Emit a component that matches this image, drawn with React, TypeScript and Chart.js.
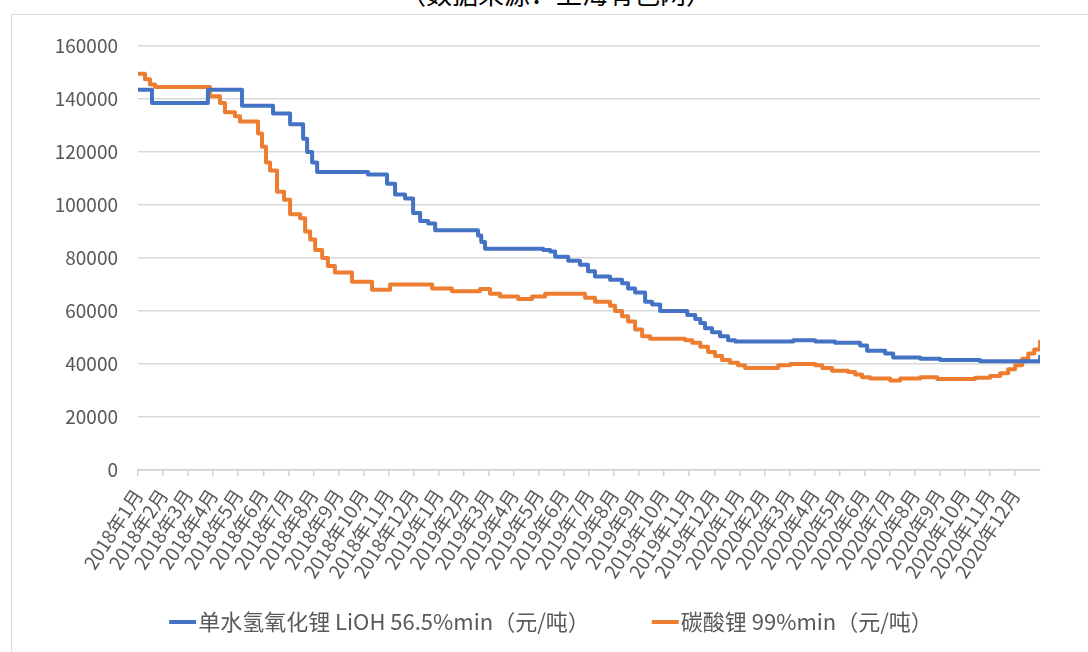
import React, { useEffect, useRef } from 'react';
import { Chart, registerables } from 'chart.js';

Chart.register(...registerables);

const monthLabels: string[] = [
  '2018年1月', '2018年2月', '2018年3月', '2018年4月', '2018年5月', '2018年6月',
  '2018年7月', '2018年8月', '2018年9月', '2018年10月', '2018年11月', '2018年12月',
  '2019年1月', '2019年2月', '2019年3月', '2019年4月', '2019年5月', '2019年6月',
  '2019年7月', '2019年8月', '2019年9月', '2019年10月', '2019年11月', '2019年12月',
  '2020年1月', '2020年2月', '2020年3月', '2020年4月', '2020年5月', '2020年6月',
  '2020年7月', '2020年8月', '2020年9月', '2020年10月', '2020年11月', '2020年12月',
];

const yTicks: number[] = [0, 20000, 40000, 60000, 80000, 100000, 120000, 140000, 160000];

// month offsets (0 = start of 2018年1月) where the LiOH price changes
const liohMonths: number[] = [
  0, 0.56, 2.79, 4.15, 5.39, 6.07, 6.59, 6.75, 6.95, 7.15, 9.18, 9.94, 10.26, 10.66,
  10.98, 11.26, 11.58, 11.86, 13.57, 13.7, 13.85, 16.17, 16.45, 16.65, 17.17, 17.64,
  17.96, 18.24, 18.84, 19.32, 19.56, 19.84, 20.24, 20.52, 20.84, 21.92, 22.24, 22.44,
  22.63, 22.91, 23.23, 23.55, 23.83, 26.15, 27.03, 27.82, 28.82, 29.1, 29.82, 30.14,
  31.22, 32.02, 33.61, 35.85, 36,
];
const liohValues: number[] = [
  143500, 138500, 143500, 137500, 134500, 130500, 125000, 120000, 116000, 112500, 111500, 108000, 104000, 102500,
  97000, 94000, 93000, 90500, 88500, 86000, 83500, 83000, 82500, 80500, 79000, 77500,
  75000, 73000, 71800, 70500, 68500, 67000, 63500, 62500, 60000, 58500, 57000, 55500,
  53500, 52000, 50500, 49000, 48500, 49000, 48500, 48000, 47000, 45000, 44000, 42500,
  42000, 41500, 41000, 41000, 42700,
];

// month offsets where the Li2CO3 price changes
const carbMonths: number[] = [
  0, 0.28, 0.48, 0.68, 2.87, 3.27, 3.47, 3.87, 4.07, 4.79, 4.95, 5.11, 5.27, 5.55,
  5.83, 6.07, 6.47, 6.67, 6.87, 7.07, 7.35, 7.58, 7.86, 8.54, 9.34, 10.06, 11.74, 12.53,
  13.65, 14.05, 14.45, 15.17, 15.73, 16.25, 17.84, 18.24, 18.84, 19.04, 19.32, 19.56,
  19.84, 20.12, 20.44, 21.84, 22.12, 22.44, 22.75, 23.03, 23.31, 23.63, 23.95, 24.23,
  25.55, 26.03, 27.03, 27.31, 27.7, 28.34, 28.62, 28.9, 29.22, 30.02, 30.42, 31.22,
  31.9, 33.41, 34.01, 34.41, 34.73, 35.01, 35.29, 35.53, 35.77, 36,
];
const carbValues: number[] = [
  149500, 147500, 145500, 144500, 141000, 138500, 135000, 133500, 131500, 127000, 122000, 116000, 113000, 105000,
  102000, 96500, 95000, 90000, 87000, 83000, 80000, 77000, 74500, 71000, 68000, 70000, 68500, 67500,
  68300, 66500, 65500, 64500, 65500, 66500, 65000, 63500, 62000, 60000, 58000, 56000,
  53000, 50500, 49500, 49000, 48000, 46500, 44500, 43000, 41500, 40500, 39500, 38500,
  39500, 40000, 39500, 38500, 37500, 37000, 36000, 35000, 34500, 33800, 34500, 35000,
  34300, 34800, 35500, 36500, 38000, 39500, 42000, 44000, 45500, 48500,
];

const seriesNames: string[] = ['单水氢氧化锂 LiOH 56.5%min（元/吨）', '碳酸锂 99%min（元/吨）'];
const seriesColors: string[] = ['#4472C4', '#ED7D31'];
const titleText = '（数据来源：上海有色网）';

const FONT = '"Noto Sans CJK SC", "Noto Sans", sans-serif';

// legend drawn on the canvas, below the axis labels
const bottomLegend = {
  id: 'bottomLegend',
  afterDraw(chart: any) {
    const ctx = chart.ctx;
    const lineLen = 27;
    const lineGap = 2;
    const itemGap = 62;
    const cy = 622;
    ctx.save();
    ctx.font = `22px ${FONT}`;
    ctx.textBaseline = 'middle';
    ctx.textAlign = 'left';
    const items = chart.data.datasets.map((d: any) => ({
      label: d.label as string,
      color: d.borderColor as string,
      w: ctx.measureText(d.label).width,
    }));
    const total = items.reduce((s: number, it: any) => s + lineLen + lineGap + it.w, 0) + itemGap * (items.length - 1);
    const centerX = 551;
    let x = centerX - total / 2;
    items.forEach((it: any) => {
      ctx.strokeStyle = it.color;
      ctx.lineWidth = 4;
      ctx.lineCap = 'butt';
      ctx.beginPath();
      ctx.moveTo(x, cy);
      ctx.lineTo(x + lineLen, cy);
      ctx.stroke();
      x += lineLen + lineGap;
      ctx.fillStyle = '#595959';
      ctx.fillText(it.label, x, cy);
      x += it.w + itemGap;
    });
    ctx.restore();
  },
};

export default function App() {
  const ref = useRef<HTMLCanvasElement | null>(null);

  useEffect(() => {
    if (!ref.current) return;
    const chart = new Chart(ref.current, {
      type: 'line',
      data: {
        datasets: [
          {
            label: seriesNames[0],
            data: liohMonths.map((m, i) => ({ x: m, y: liohValues[i] })),
            borderColor: seriesColors[0],
            backgroundColor: seriesColors[0],
            borderWidth: 4,
            borderJoinStyle: 'round',
            borderCapStyle: 'round',
            pointRadius: 0,
            stepped: 'before',
            fill: false,
          },
          {
            label: seriesNames[1],
            data: carbMonths.map((m, i) => ({ x: m, y: carbValues[i] })),
            borderColor: seriesColors[1],
            backgroundColor: seriesColors[1],
            borderWidth: 4,
            borderJoinStyle: 'round',
            borderCapStyle: 'round',
            pointRadius: 0,
            stepped: 'before',
            fill: false,
          },
        ],
      },
      options: {
        animation: false,
        responsive: false,
        maintainAspectRatio: false,
        layout: { padding: { left: 20, right: 48, top: 46, bottom: 0 } },
        plugins: {
          legend: { display: false },
          tooltip: { enabled: false },
        },
        scales: {
          x: {
            type: 'linear',
            min: 0,
            max: 36,
            afterFit: (s: any) => {
              s.height = 182;
            },
            afterBuildTicks: (s: any) => {
              s.ticks = monthLabels.map((_, i) => ({ value: i })).concat([{ value: 36 }]);
            },
            ticks: {
              autoSkip: false,
              minRotation: 57,
              maxRotation: 57,
              padding: 9,
              color: '#595959',
              font: { family: FONT, size: 19 },
              callback: (v: any) => (monthLabels[v as number] !== undefined ? monthLabels[v as number] : ''),
            },
            grid: {
              drawOnChartArea: false,
              tickLength: 6,
              lineWidth: 1.5,
              color: (ctx: any) => (ctx.tick && ctx.tick.value === 36 ? 'rgba(0,0,0,0)' : '#d0d0d0'),
            },
            border: { display: true, color: '#d0d0d0', width: 1.5 },
          },
          y: {
            min: 0,
            max: 160000,
            afterFit: (s: any) => {
              s.width = 118;
            },
            afterBuildTicks: (s: any) => {
              s.ticks = yTicks.map((v) => ({ value: v }));
            },
            ticks: {
              padding: 20,
              color: '#595959',
              font: { family: FONT, size: 19 },
              callback: (v: any) => String(v),
            },
            grid: { color: '#d9d9d9', lineWidth: 1.5, drawTicks: false },
            border: { display: false },
          },
        },
      },
      plugins: [bottomLegend],
    });
    return () => chart.destroy();
  }, []);

  return (
    <div style={{ position: 'absolute', left: 0, top: 0, width: 1088, height: 652, overflow: 'hidden', background: '#fff' }}>
      <div
        style={{
          position: 'absolute',
          left: 0,
          width: 1088,
          top: -22,
          textAlign: 'center',
          fontFamily: FONT,
          fontSize: 26,
          lineHeight: '30px',
          color: '#000',
          paddingLeft: 12,
        }}
      >
        {titleText}
      </div>
      <div
        style={{
          position: 'absolute',
          left: 11,
          top: 14,
          width: 1100,
          height: 700,
          borderLeft: '1.5px solid #d9d9d9',
          borderTop: '1.5px solid #d9d9d9',
          background: '#fff',
        }}
      />
      <canvas ref={ref} width={1088} height={652} style={{ position: 'absolute', left: 0, top: 0 }} />
    </div>
  );
}
